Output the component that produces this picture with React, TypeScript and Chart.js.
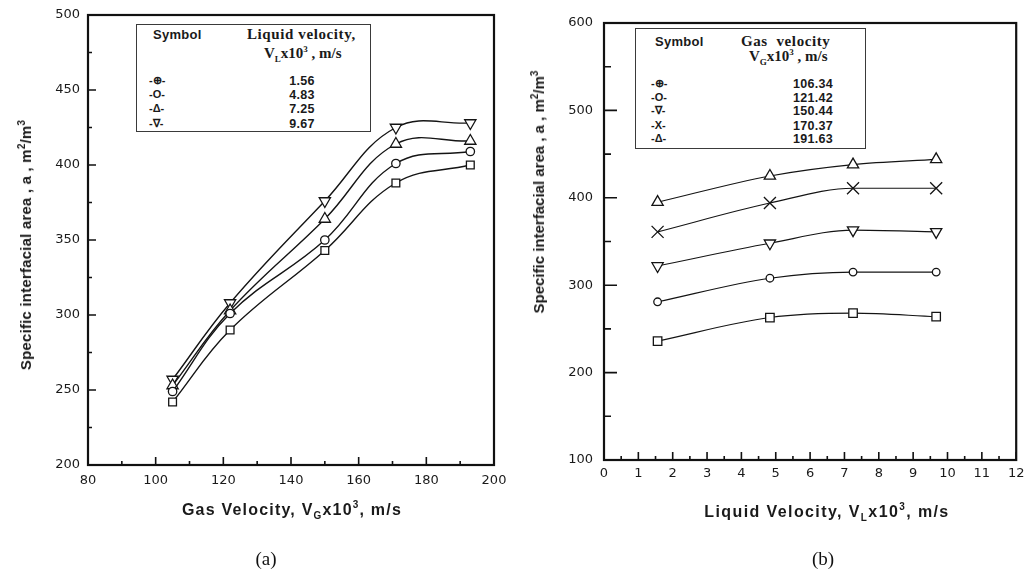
import React, { useEffect, useRef } from "react";
import { Chart, registerables } from "chart.js";

Chart.register(...registerables);

// ---------- Data: chart (a) ----------
const gasVelocityA = [105, 122, 150, 171, 193];
const liquidVelocityLabelsA = ["1.56", "4.83", "7.25", "9.67"];
const legendSymbolsA = ["-\u2295-", "-O-", "-\u0394-", "-\u2207-"];
const areaA_VL156 = [242, 290, 343, 388, 400];
const areaA_VL483 = [249, 301, 350, 401, 409];
const areaA_VL725 = [253, 303, 364, 414, 416];
const areaA_VL967 = [257, 308, 376, 425, 428];
const xTicksA = { min: 80, max: 200, step: 20, minor: 10 };
const yTicksA = { min: 200, max: 500, step: 50, minor: 25 };

// ---------- Data: chart (b) ----------
const liquidVelocityB = [1.56, 4.83, 7.25, 9.67];
const gasVelocityLabelsB = ["106.34", "121.42", "150.44", "170.37", "191.63"];
const legendSymbolsB = ["-\u2295-", "-O-", "-\u2207-", "-X-", "-\u0394-"];
const areaB_VG10634 = [236, 263, 268, 264];
const areaB_VG12142 = [281, 308, 315, 315];
const areaB_VG15044 = [322, 348, 363, 361];
const areaB_VG17037 = [361, 394, 411, 411];
const areaB_VG19163 = [395, 425, 438, 444];
const xTicksB = { min: 0, max: 12, step: 1, minor: 0.5 };
const yTicksB = { min: 100, max: 600, step: 100, minor: 50 };

type Marker = { style: string; radius: number; rotation?: number };

const toPoints = (xs: number[], ys: number[]) => xs.map((x, i) => ({ x, y: ys[i] }));

function makeDataset(label: string, xs: number[], ys: number[], m: Marker, lw: number, smooth: any) {
  return {
    label,
    data: toPoints(xs, ys),
    borderColor: "#141414",
    borderWidth: lw,
    ...smooth,
    pointStyle: m.style,
    pointRadius: m.radius,
    pointRotation: m.rotation ?? 0,
    pointBorderColor: "#141414",
    pointBorderWidth: 1.3,
    pointBackgroundColor: "#ffffff",
    fill: false,
  };
}

function frameTicksPlugin(minorX: number, minorY: number, majX: number, minX: number, majY: number, minY: number) {
  return {
    id: "frameTicks",
    afterDatasetsDraw(chart: any) {
      const { ctx, chartArea: a, scales } = chart;
      const x = scales.x;
      const y = scales.y;
      ctx.save();
      ctx.strokeStyle = "#111";
      ctx.lineWidth = 1.6;
      const xMajor = x.ticks.map((t: any) => t.value);
      const yMajor = y.ticks.map((t: any) => t.value);
      const isMajor = (v: number, arr: number[]) => arr.some((m) => Math.abs(m - v) < 1e-6);
      ctx.beginPath();
      for (let v = x.min; v <= x.max + 1e-9; v += minorX) {
        const px = x.getPixelForValue(v);
        const len = isMajor(v, xMajor) ? majX : minX;
        ctx.moveTo(px, a.bottom);
        ctx.lineTo(px, a.bottom - len);
      }
      for (let v = y.min; v <= y.max + 1e-9; v += minorY) {
        const py = y.getPixelForValue(v);
        const len = isMajor(v, yMajor) ? majY : minY;
        ctx.moveTo(a.left, py);
        ctx.lineTo(a.left + len, py);
      }
      ctx.stroke();
      ctx.lineWidth = 2.2;
      ctx.strokeRect(a.left, a.top, a.right - a.left, a.bottom - a.top);
      ctx.restore();
    },
  };
}

type Cfg = {
  datasets: any[];
  xT: { min: number; max: number; step: number; minor: number };
  yT: { min: number; max: number; step: number; minor: number };
  padTop: number;
  padRight: number;
  yWidth: number;
  xHeight: number;
  yPad: number;
  xPad: number;
  ticks: [number, number, number, number];
};

function PlotCanvas({ cfg, left, width }: { cfg: Cfg; left: number; width: number }) {
  const ref = useRef<HTMLCanvasElement | null>(null);
  useEffect(() => {
    if (!ref.current) return;
    const font = { family: "'DejaVu Sans', Arial, sans-serif", size: 13 };
    const chart = new Chart(ref.current, {
      type: "line",
      data: { datasets: cfg.datasets },
      options: {
        animation: false,
        responsive: false,
        maintainAspectRatio: false,
        layout: { padding: { top: cfg.padTop, right: cfg.padRight, left: 0, bottom: 0 } },
        plugins: { legend: { display: false }, tooltip: { enabled: false }, title: { display: false } },
        scales: {
          x: {
            type: "linear",
            min: cfg.xT.min,
            max: cfg.xT.max,
            grid: { display: false, drawTicks: false },
            border: { display: false },
            ticks: { stepSize: cfg.xT.step, color: "#1a1a1a", font, padding: cfg.xPad, maxRotation: 0 },
            afterFit: (s: any) => {
              s.height = cfg.xHeight;
              s.paddingLeft = 0;
              s.paddingRight = 0;
            },
          },
          y: {
            type: "linear",
            min: cfg.yT.min,
            max: cfg.yT.max,
            grid: { display: false, drawTicks: false },
            border: { display: false },
            ticks: { stepSize: cfg.yT.step, color: "#1a1a1a", font, padding: cfg.yPad },
            afterFit: (s: any) => {
              s.width = cfg.yWidth;
              s.paddingTop = 0;
              s.paddingBottom = 0;
            },
          },
        },
      } as any,
      plugins: [frameTicksPlugin(cfg.xT.minor, cfg.yT.minor, ...cfg.ticks) as any],
    });
    return () => chart.destroy();
  }, []);
  return (
    <canvas
      ref={ref}
      width={width}
      height={574}
      style={{ position: "absolute", left, top: 0, width, height: 574 }}
    />
  );
}

const sansBold = "'Liberation Sans', Arial, sans-serif";
const serif = "'Liberation Serif', 'Times New Roman', serif";

function T({ x, y, children, style }: { x: number; y: number; children: any; style?: any }) {
  return (
    <div
      style={{
        position: "absolute",
        left: x,
        top: y,
        transform: "translate(-50%, -50%)",
        whiteSpace: "nowrap",
        lineHeight: "1",
        ...style,
      }}
    >
      {children}
    </div>
  );
}

function Legend({
  left, top, width, height, title1, sub, symbols, values, symX, valX, rowYs, headY, titleX, title2X,
}: any) {
  return (
    <div
      style={{
        position: "absolute",
        left,
        top,
        width,
        height,
        boxSizing: "border-box",
        border: "1.5px solid #3a3a3a",
        background: "#fff",
      }}
    >
      <div style={{ position: "absolute", left: symX + 4, top: headY[0] - 8, font: `bold 13px ${sansBold}`, color: "#1a1a1a", letterSpacing: "0.3px" }}>
        Symbol
      </div>
      <div style={{ position: "absolute", left: titleX, top: headY[0] - 9, font: `bold 15px ${serif}`, color: "#1a1a1a", letterSpacing: "0.6px", whiteSpace: "pre" }}>
        {title1}
      </div>
      <div style={{ position: "absolute", left: title2X, top: headY[1] - 9, font: `bold 15px ${serif}`, color: "#1a1a1a", whiteSpace: "pre" }}>
        V<sub style={{ fontSize: 9 }}>{sub}</sub>x10<sup style={{ fontSize: 9 }}>3</sup> , m/s
      </div>
      {symbols.map((s: string, i: number) => (
        <div key={"s" + i} style={{ position: "absolute", left: symX, top: rowYs[i] - 7, font: `bold 11px ${sansBold}`, color: "#1a1a1a" }}>
          {s}
        </div>
      ))}
      {values.map((v: string, i: number) => (
        <div key={"v" + i} style={{ position: "absolute", left: valX, top: rowYs[i] - 7, transform: "translateX(-50%)", font: `bold 12.5px ${sansBold}`, color: "#1a1a1a", letterSpacing: "0.3px" }}>
          {v}
        </div>
      ))}
    </div>
  );
}

export default function App() {
  const lwA = 1.4;
  const lwB = 1.1;
  const smoothA = { tension: 0.4 };
  const smoothB = { cubicInterpolationMode: "monotone" };
  const cfgA: Cfg = {
    datasets: [
      makeDataset(liquidVelocityLabelsA[0], gasVelocityA, areaA_VL156, { style: "rect", radius: 5.5 }, lwA, smoothA),
      makeDataset(liquidVelocityLabelsA[1], gasVelocityA, areaA_VL483, { style: "circle", radius: 4.2 }, lwA, smoothA),
      makeDataset(liquidVelocityLabelsA[2], gasVelocityA, areaA_VL725, { style: "triangle", radius: 6.5 }, lwA, smoothA),
      makeDataset(liquidVelocityLabelsA[3], gasVelocityA, areaA_VL967, { style: "triangle", radius: 6.5, rotation: 180 }, lwA, smoothA),
    ],
    xT: xTicksA,
    yT: yTicksA,
    padTop: 15,
    padRight: 19,
    yWidth: 88,
    xHeight: 109,
    yPad: 8,
    xPad: 8,
    ticks: [8, 4, 8, 4],
  };
  const cfgB: Cfg = {
    datasets: [
      makeDataset(gasVelocityLabelsB[0], liquidVelocityB, areaB_VG10634, { style: "rect", radius: 6 }, lwB, smoothB),
      makeDataset(gasVelocityLabelsB[1], liquidVelocityB, areaB_VG12142, { style: "circle", radius: 3.8 }, lwB, smoothB),
      makeDataset(gasVelocityLabelsB[2], liquidVelocityB, areaB_VG15044, { style: "triangle", radius: 6.5, rotation: 180 }, lwB, smoothB),
      makeDataset(gasVelocityLabelsB[3], liquidVelocityB, areaB_VG17037, { style: "crossRot", radius: 8.5 }, lwB, smoothB),
      makeDataset(gasVelocityLabelsB[4], liquidVelocityB, areaB_VG19163, { style: "triangle", radius: 6.5 }, lwB, smoothB),
    ],
    xT: xTicksB,
    yT: yTicksB,
    padTop: 23,
    padRight: 6,
    yWidth: 91,
    xHeight: 114,
    yPad: 11,
    xPad: 6,
    ticks: [8, 4, 13, 7],
  };

  const yTitle = (
    <>
      Specific interfacial area , a , m<sup style={{ fontSize: 10 }}>2</sup>/m<sup style={{ fontSize: 10 }}>3</sup>
    </>
  );

  return (
    <div style={{ position: "fixed", left: 0, top: 0, width: 1026, height: 574, background: "#fff", overflow: "hidden" }}>
      <PlotCanvas cfg={cfgA} left={0} width={513} />
      <PlotCanvas cfg={cfgB} left={513} width={513} />

      <T x={25} y={245} style={{ transform: "translate(-50%, -50%) rotate(-90deg)", font: `bold 15px ${sansBold}`, color: "#1a1a1a", letterSpacing: "0.2px" }}>
        {yTitle}
      </T>
      <T x={538} y={192} style={{ transform: "translate(-50%, -50%) rotate(-90deg)", font: `bold 15px ${sansBold}`, color: "#1a1a1a" }}>
        {yTitle}
      </T>
      <T x={292} y={510} style={{ font: `bold 16px ${sansBold}`, color: "#1a1a1a", letterSpacing: "1.2px" }}>
        Gas Velocity, V<sub style={{ fontSize: 10 }}>G</sub>x10<sup style={{ fontSize: 10 }}>3</sup>, m/s
      </T>
      <T x={827} y={512} style={{ font: `bold 16px ${sansBold}`, color: "#1a1a1a", letterSpacing: "1.4px" }}>
        Liquid Velocity, V<sub style={{ fontSize: 10 }}>L</sub>x10<sup style={{ fontSize: 10 }}>3</sup>, m/s
      </T>
      <T x={266} y={559} style={{ font: `19px ${serif}`, color: "#111" }}>(a)</T>
      <T x={823} y={559} style={{ font: `19px ${serif}`, color: "#111" }}>(b)</T>

      <Legend
        left={136}
        top={24}
        width={235}
        height={108}
        title1="Liquid velocity,"
        title2X={127}
        titleX={110}
        sub="L"
        symbols={legendSymbolsA}
        values={liquidVelocityLabelsA}
        symX={12}
        valX={165}
        rowYs={[56, 70, 84, 99]}
        headY={[10, 28]}
      />
      <Legend
        left={635}
        top={28}
        width={231}
        height={121}
        title1={"Gas  velocity"}
        title2X={113}
        titleX={105}
        sub="G"
        symbols={legendSymbolsB}
        values={gasVelocityLabelsB}
        symX={15}
        valX={177}
        rowYs={[55, 69, 82, 97, 110]}
        headY={[13, 27]}
      />
    </div>
  );
}
